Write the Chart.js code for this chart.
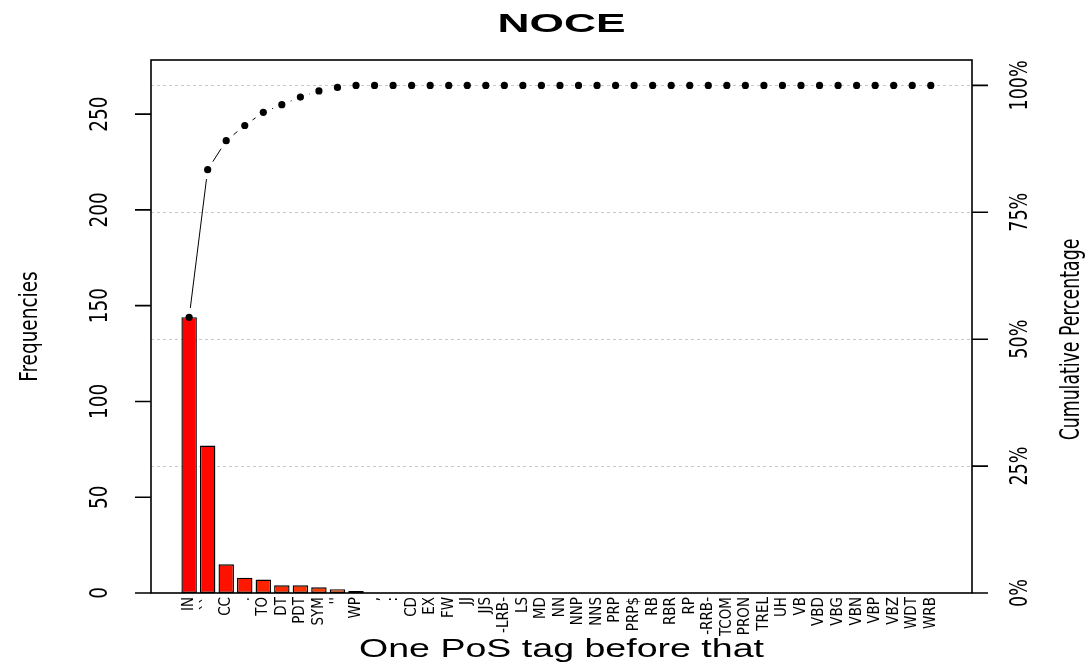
<!DOCTYPE html>
<html>
<head>
<meta charset="utf-8">
<title>NOCE</title>
<script src="https://cdn.jsdelivr.net/npm/chart.js@4.4.1/dist/chart.umd.min.js"></script>
<style>
    html, body { margin: 0; padding: 0; background: #fff; }
    #wrap { width: 1090px; height: 662px; }
</style>
</head>
<body>
<div id="wrap"><canvas id="chart" width="1090" height="662"></canvas></div>
<script>
const TITLE = 'NOCE';
const X_TITLE = 'One PoS tag before that';
const Y_TITLE = 'Frequencies';
const Y2_TITLE = 'Cumulative Percentage';

// tags, sorted by frequency as in the pareto chart
const tags = ['IN', '``', 'CC', '.', 'TO', 'DT', 'PDT', 'SYM', "''", 'WP', ',', ':',
    'CD', 'EX', 'FW', 'JJ', 'JJS', '-LRB-', 'LS', 'MD', 'NN', 'NNP', 'NNS', 'PRP', 'PRP$',
    'RB', 'RBR', 'RP', '-RRB-', 'TCOM', 'PRON', 'TREL', 'UH', 'VB', 'VBD', 'VBG', 'VBN',
    'VBP', 'VBZ', 'WDT', 'WRB'];

const frequencies = [144, 77, 15, 8, 7, 4, 4, 3, 2, 1, 0, 0,
    0, 0, 0, 0, 0, 0, 0, 0, 0, 0, 0, 0, 0,
    0, 0, 0, 0, 0, 0, 0, 0, 0, 0, 0, 0,
    0, 0, 0, 0];

// cumulative percentage
const cumulativePct = [54.3, 83.4, 89.1, 92.1, 94.7, 96.2, 97.7, 98.9, 99.6, 100, 100, 100,
    100, 100, 100, 100, 100, 100, 100, 100, 100, 100, 100, 100, 100,
    100, 100, 100, 100, 100, 100, 100, 100, 100, 100, 100, 100,
    100, 100, 100, 100];

const freqTicks = [0, 50, 100, 150, 200, 250];
const pctTicks = [0, 25, 50, 75, 100];
const FREQ_MAX = 278.25;   // total 265 plus 5%
const PCT_MAX = 105;

const NARROW = "'Liberation Sans Narrow', 'DejaVu Sans Condensed', 'Liberation Sans', sans-serif";
const SANS = "'Liberation Sans', Arial, sans-serif";
const GAP = 9.5;

function hText(ctx, text, cx, cy, font, width) {
    ctx.save();
    ctx.font = font;
    const w = ctx.measureText(text).width;
    ctx.translate(cx, cy);
    ctx.scale(width / w, 1);
    ctx.textAlign = 'center';
    ctx.textBaseline = 'middle';
    ctx.fillText(text, 0, 0);
    ctx.restore();
}

// rotated text, squeezed along its length like the R output
function vText(ctx, text, cx, cy, font, squeeze) {
    ctx.save();
    ctx.font = font;
    ctx.translate(cx, cy);
    ctx.rotate(-Math.PI / 2);
    ctx.scale(squeeze, 1);
    ctx.textAlign = 'center';
    ctx.textBaseline = 'middle';
    ctx.fillText(text, 0, 0);
    ctx.restore();
}

const rFrame = {
    id: 'rFrame',
    afterDraw(chart) {
        const { ctx, chartArea: a, scales } = chart;
        const y = scales.y;
        const y2 = scales.y2;
        ctx.save();
        ctx.strokeStyle = '#000';
        ctx.fillStyle = '#000';
        ctx.lineWidth = 1.6;
        ctx.strokeRect(a.left, a.top, a.right - a.left, a.bottom - a.top);

        ctx.beginPath();
        freqTicks.forEach(v => {
            const py = y.getPixelForValue(v);
            ctx.moveTo(a.left - 16, py);
            ctx.lineTo(a.left, py);
        });
        pctTicks.forEach(v => {
            const py = y2.getPixelForValue(v);
            ctx.moveTo(a.right, py);
            ctx.lineTo(a.right + 16, py);
        });
        ctx.stroke();

        freqTicks.forEach(v => vText(ctx, String(v), a.left - 51, y.getPixelForValue(v), '25px ' + NARROW, 0.82));
        pctTicks.forEach(v => vText(ctx, v + '%', a.right + 48, y2.getPixelForValue(v), '25px ' + NARROW, 0.78));

        vText(ctx, Y_TITLE, 30, (a.top + a.bottom) / 2, '25px ' + NARROW, 0.82);
        vText(ctx, Y2_TITLE, 1072, (a.top + a.bottom) / 2 + 13, '26px ' + NARROW, 0.74);

        hText(ctx, TITLE, (a.left + a.right) / 2, 25, 'bold 25px ' + SANS, 128);
        hText(ctx, X_TITLE, (a.left + a.right) / 2, 650, '25px ' + SANS, 405);
        ctx.restore();
    }
};

new Chart(document.getElementById('chart'), {
    type: 'bar',
    data: {
        datasets: [
            {
                type: 'line',
                data: cumulativePct.map((v, i) => ({ x: i, y: v })),
                yAxisID: 'y2',
                order: 0,
                borderColor: '#000',
                borderWidth: 1,
                pointRadius: 3.6,
                pointBorderWidth: 0,
                pointBackgroundColor: '#000',
                tension: 0,
                segment: {
                    borderDash: c => {
                        const len = Math.hypot(c.p1.x - c.p0.x, c.p1.y - c.p0.y);
                        return len > 2 * GAP ? [0, GAP, len - 2 * GAP, 3000] : [0, 3000];
                    }
                }
            },
            {
                type: 'bar',
                data: frequencies.map((v, i) => ({ x: i, y: v })),
                yAxisID: 'y',
                order: 1,
                backgroundColor: tags.map((_, i) => `hsl(${i * 2}, 100%, 50%)`),
                borderColor: '#000',
                borderWidth: 1.4,
                borderSkipped: false,
                categoryPercentage: 1,
                barPercentage: 1 / 1.2
            }
        ]
    },
    options: {
        responsive: false,
        animation: false,
        layout: { padding: { top: 60, left: 0, right: 0, bottom: 0 } },
        plugins: {
            legend: { display: false },
            title: { display: false },
            tooltip: { enabled: false }
        },
        scales: {
            x: {
                type: 'linear',
                offset: false,
                min: -2.0567,
                max: 42.223,
                grid: { display: false, drawTicks: false, offset: false },
                border: { display: false },
                afterBuildTicks: s => { s.ticks = tags.map((_, i) => ({ value: i })); },
                afterFit: s => { s.height = 69; },
                ticks: {
                    autoSkip: false,
                    minRotation: 90,
                    maxRotation: 90,
                    padding: 4,
                    color: '#000',
                    font: { family: NARROW, size: 15 },
                    callback: v => tags[v]
                }
            },
            y: {
                position: 'left',
                min: 0,
                max: FREQ_MAX,
                grid: { display: false, drawTicks: false },
                border: { display: false },
                ticks: { display: false },
                afterFit: s => { s.width = 151; }
            },
            y2: {
                position: 'right',
                min: 0,
                max: PCT_MAX,
                afterBuildTicks: s => { s.ticks = pctTicks.map(v => ({ value: v })); },
                grid: {
                    drawTicks: false,
                    lineWidth: 1,
                    color: c => (c.tick && c.tick.value === 0) ? 'rgba(0,0,0,0)' : '#c8c8c8'
                },
                border: { display: false, dash: [3, 3] },
                ticks: { display: false },
                afterFit: s => { s.width = 118; }
            }
        }
    },
    plugins: [rFrame]
});
</script>
</body>
</html>
